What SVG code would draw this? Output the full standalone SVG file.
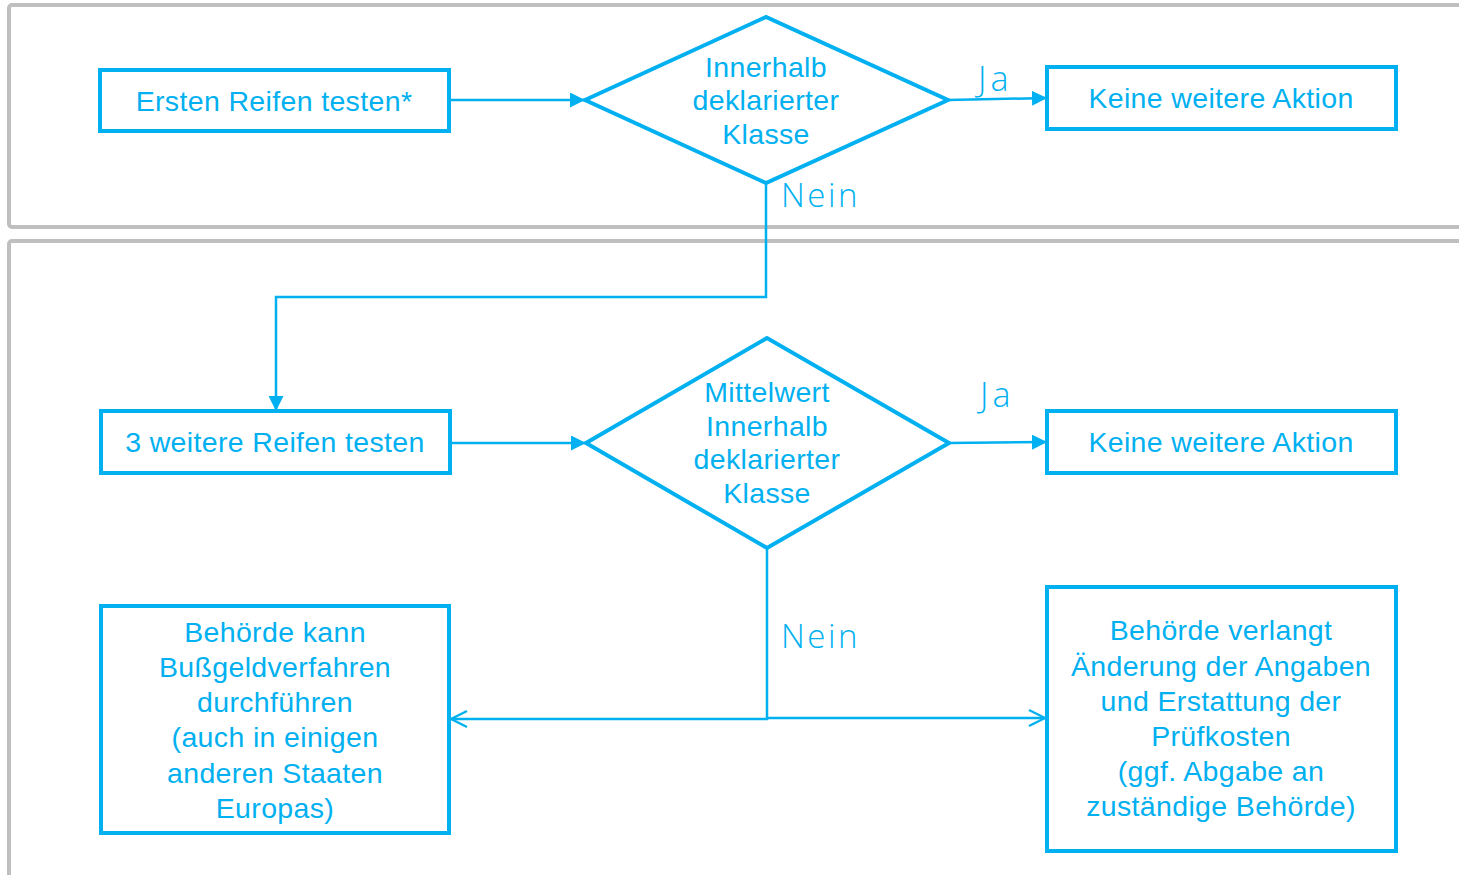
<svg xmlns="http://www.w3.org/2000/svg" width="1459" height="875" viewBox="0 0 1459 875">
<style>
.panel{fill:none;stroke:#bfbfbf;stroke-width:4}
.box{fill:#fff;stroke:#00b0f0;stroke-width:4}
.t{font-family:"Liberation Sans",Arial,sans-serif;font-size:28.5px;fill:#00b0f0;text-anchor:middle;letter-spacing:0.35px}
.lbl{font-family:"Open Sans","Liberation Sans",sans-serif;font-weight:300;font-size:33px;fill:#00b0f0;letter-spacing:2.5px}
.ja{letter-spacing:4px;font-size:34px}
.c{fill:none;stroke:#00b0f0;stroke-width:2.5}
</style>
<defs>
<marker id="af" viewBox="0 0 10 10" refX="10" refY="5" markerWidth="15" markerHeight="15" markerUnits="userSpaceOnUse" orient="auto"><path d="M0,0 L10,5 L0,10 Z" fill="#00b0f0"/></marker>
<marker id="ao" viewBox="0 0 10 10" refX="9" refY="5" markerWidth="20" markerHeight="20" markerUnits="userSpaceOnUse" orient="auto"><path d="M1,1 L9,5 L1,9" fill="none" stroke="#00b0f0" stroke-width="1.2"/></marker>
</defs>
<rect width="1459" height="875" fill="#fff"/>
<g id="panels">
<rect class="panel" x="9" y="5" width="1470" height="222" rx="3"/>
<rect class="panel" x="9" y="241" width="1470" height="660" rx="3"/>
</g>
<g id="connectors">
<path class="c" d="M449,100 L585,100" marker-end="url(#af)"/>
<path class="c" d="M948,100 L1047,98" marker-end="url(#af)"/>
<path class="c" d="M766,183 L766,297 L276,297 L276,411" marker-end="url(#af)"/>
<path class="c" d="M450,443 L586,443" marker-end="url(#af)"/>
<path class="c" d="M949,443 L1047,442" marker-end="url(#af)"/>
<path class="c" d="M767,548 L767,719 L451,719" marker-end="url(#ao)"/>
<path class="c" d="M767,718 L1045,718" marker-end="url(#ao)"/>
</g>
<g id="labels">
<text class="lbl ja" x="978" y="91">Ja</text>
<text class="lbl" x="781" y="207">Nein</text>
<text class="lbl ja" x="980" y="407">Ja</text>
<text class="lbl" x="781" y="648">Nein</text>
</g>
<g id="n1"><rect class="box" x="100" y="70" width="349" height="61"/><text class="t" x="274" y="111">Ersten Reifen testen*</text></g>
<g id="d1"><polygon class="box" points="585,100 766,17 948,100 766,183"/>
<text class="t" x="766" y="77">Innerhalb</text><text class="t" x="766" y="110">deklarierter</text><text class="t" x="766" y="144">Klasse</text></g>
<g id="n2"><rect class="box" x="1047" y="67" width="349" height="62"/><text class="t" x="1221" y="108">Keine weitere Aktion</text></g>
<g id="n3"><rect class="box" x="101" y="411" width="349" height="62"/><text class="t" x="275" y="452">3 weitere Reifen testen</text></g>
<g id="d2"><polygon class="box" points="586,443 767,338 949,443 767,548"/>
<text class="t" x="767" y="402">Mittelwert</text><text class="t" x="767" y="436">Innerhalb</text><text class="t" x="767" y="469">deklarierter</text><text class="t" x="767" y="503">Klasse</text></g>
<g id="n4"><rect class="box" x="1047" y="411" width="349" height="62"/><text class="t" x="1221" y="452">Keine weitere Aktion</text></g>
<g id="n5"><rect class="box" x="101" y="606" width="348" height="227"/>
<text class="t" x="275" y="642">Behörde kann</text><text class="t" x="275" y="677">Bußgeldverfahren</text><text class="t" x="275" y="712">durchführen</text><text class="t" x="275" y="747">(auch in einigen</text><text class="t" x="275" y="783">anderen Staaten</text><text class="t" x="275" y="818">Europas)</text></g>
<g id="n6"><rect class="box" x="1047" y="587" width="349" height="264"/>
<text class="t" x="1221" y="640">Behörde verlangt</text><text class="t" x="1221" y="676">Änderung der Angaben</text><text class="t" x="1221" y="711">und Erstattung der</text><text class="t" x="1221" y="746">Prüfkosten</text><text class="t" x="1221" y="781">(ggf. Abgabe an</text><text class="t" x="1221" y="816">zuständige Behörde)</text></g>
</svg>
